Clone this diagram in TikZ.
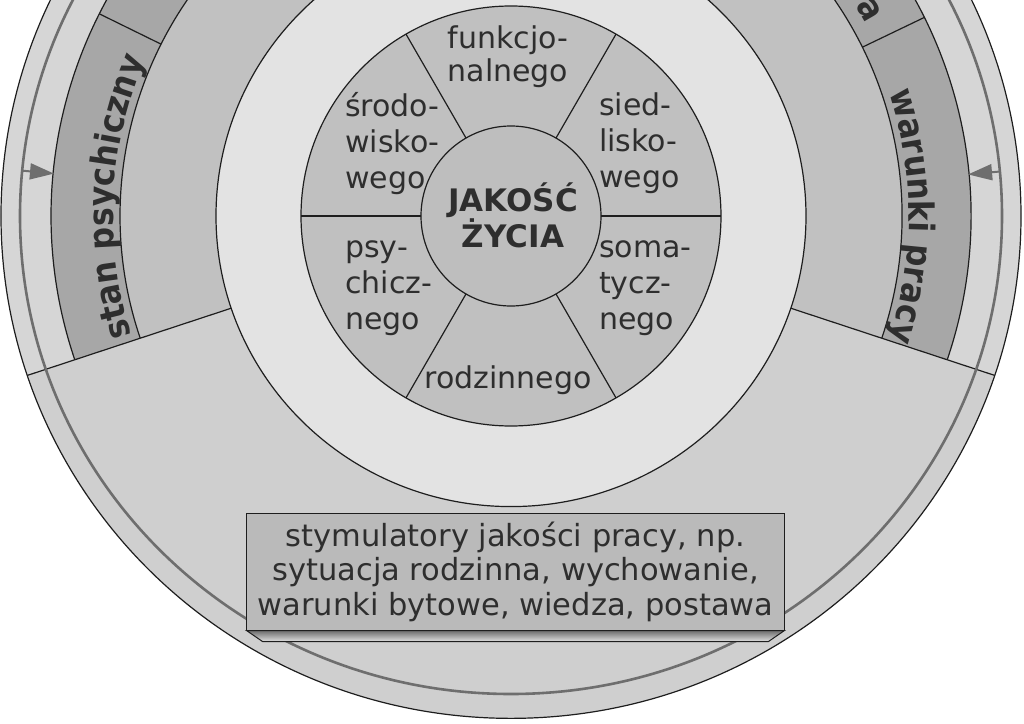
\documentclass[tikz,border=0pt]{standalone}
\usepackage{fontspec}
\setmainfont{DejaVu Sans}
\newfontfamily\bandfont{DejaVu Sans Condensed}
\usetikzlibrary{decorations.text,arrows.meta}
\definecolor{cOuter}{HTML}{D6D6D6}
\definecolor{cBottom}{HTML}{CFCFCF}
\definecolor{cBand}{HTML}{A7A7A7}
\definecolor{cMed}{HTML}{C1C1C1}
\definecolor{cLight}{HTML}{E3E3E3}
\definecolor{cSector}{HTML}{C0C0C0}
\definecolor{cCenter}{HTML}{BEBEBE}
\definecolor{cLine}{HTML}{1E1E1E}
\definecolor{cGrayLine}{HTML}{6E6E6E}
\definecolor{cText}{HTML}{2E2E2E}
\definecolor{cBox}{HTML}{BABABA}
\tikzset{
  ln/.style={draw=cLine, line width=1.2pt},
  grayln/.style={draw=cGrayLine, line width=2.6pt},
  arrowln/.style={draw=cGrayLine, line width=2pt, -{Triangle[length=24pt,width=16pt]}},
  secttext/.style={text=cText, align=left, inner sep=0pt, font=\fontsize{30}{36}\selectfont},
  centertext/.style={text=cText, align=center, inner sep=0pt, font=\bfseries\fontsize{31}{35}\selectfont},
  boxnode/.style={draw=cLine, line width=1pt, fill=cBox, text=cText, align=center,
    minimum width=537pt, minimum height=117pt, inner sep=0pt, font=\fontsize{30.5}{34.5}\selectfont},
}
\begin{document}
\begin{tikzpicture}[x=1pt,y=1pt]
\useasboundingbox (-511,-507) rectangle (513,216);
\clip (-511,-507) rectangle (513,216);
% rings (slightly flattened vertically, as in the reference)
\begin{scope}[yscale=0.985]
\fill[cOuter] (0,0) circle[radius=510];
\fill[cBottom] (198.5:295) arc[start angle=198.5,end angle=341.5,radius=295]
  -- (341.5:510) arc[start angle=341.5,end angle=198.5,radius=510] -- cycle;
\fill[cBand] (-18.5:391) arc[start angle=-18.5,end angle=198.5,radius=391]
  -- (198.5:460) arc[start angle=198.5,end angle=-18.5,radius=460] -- cycle;
\fill[cMed] (-18.5:295) arc[start angle=-18.5,end angle=198.5,radius=295]
  -- (198.5:391) arc[start angle=198.5,end angle=-18.5,radius=391] -- cycle;
\fill[cLight] (0,0) circle[radius=295];
\draw[ln] (0,0) circle[radius=510];
\draw[ln] (-18.5:460) arc[start angle=-18.5,end angle=198.5,radius=460];
\draw[ln] (-18.5:391) arc[start angle=-18.5,end angle=198.5,radius=391];
\draw[ln] (0,0) circle[radius=295];
\draw[ln] (198.5:295) -- (198.5:510);
\draw[ln] (-18.5:295) -- (-18.5:510);
\draw[ln] (26:391) -- (26:460);
\draw[ln] (153.5:391) -- (153.5:460);
\end{scope}
% life-quality sectors
\fill[cSector] (0,0) circle[radius=210];
\fill[cCenter] (0,0) circle[radius=90];
\draw[ln] (0,0) circle[radius=210];
\draw[ln] (0,0) circle[radius=90];
\foreach \a in {0,60,...,300} \draw[ln] (\a:90) -- (\a:210);
% gray ring with arrows
\draw[grayln] (0,0) ellipse[x radius=491, y radius=478];
\coordinate (la0) at (174.7:490);
\coordinate (la1) at (174.7:459);
\coordinate (ra0) at (5.2:490);
\coordinate (ra1) at (5.2:459);
\draw[arrowln] (la0) -- (la1);
\draw[arrowln] (ra0) -- (ra1);
% band texts
\path[decorate, decoration={text along path, text align=center,
  text={|\color{cText}\bandfont\bfseries\fontsize{35}{35}\selectfont|stan psychiczny}}]
  (202.2:398) arc[start angle=202.2,end angle=152.2,radius=398];
\path[decorate, decoration={text along path, text align=center,
  text={|\color{cText}\bandfont\bfseries\fontsize{35}{35}\selectfont|warunki pracy}}]
  (25:398) arc[start angle=25,end angle=-25,radius=398];
\node[rotate=-60, text=cText, inner sep=0pt, font=\bandfont\bfseries\fontsize{35}{35}\selectfont] (atop) at (29.9:413) {a};
% sector texts
\node[secttext, font=\fontsize{30}{33}\selectfont] (funk) at (-3,159) {funkcjo-\\nalnego};
\node[secttext, anchor=west] (srod) at (-166,72) {środo-\\wisko-\\wego};
\node[secttext, anchor=west] (sied) at (88,73) {sied-\\lisko-\\wego};
\node[secttext, anchor=west] (psy) at (-166,-72) {psy-\\chicz-\\nego};
\node[secttext, anchor=west] (soma) at (88,-72) {soma-\\tycz-\\nego};
\node[secttext] (rodz) at (-3,-164) {rodzinnego};
\node[centertext] (jz) at (2,1) {JAKOŚĆ\\ŻYCIA};
% box
\node[boxnode] (box) at (4.5,-355.5) {stymulatory jakości pracy, np.\\sytuacja rodzinna, wychowanie,\\warunki bytowe, wiedza, postawa};
\shade[top color=gray!85!black, bottom color=gray!25, draw=cLine, line width=1pt]
  (box.south west) -- (box.south east) -- ([xshift=-16pt,yshift=-11pt]box.south east)
  -- ([xshift=16pt,yshift=-11pt]box.south west) -- cycle;
\end{tikzpicture}
\end{document}
